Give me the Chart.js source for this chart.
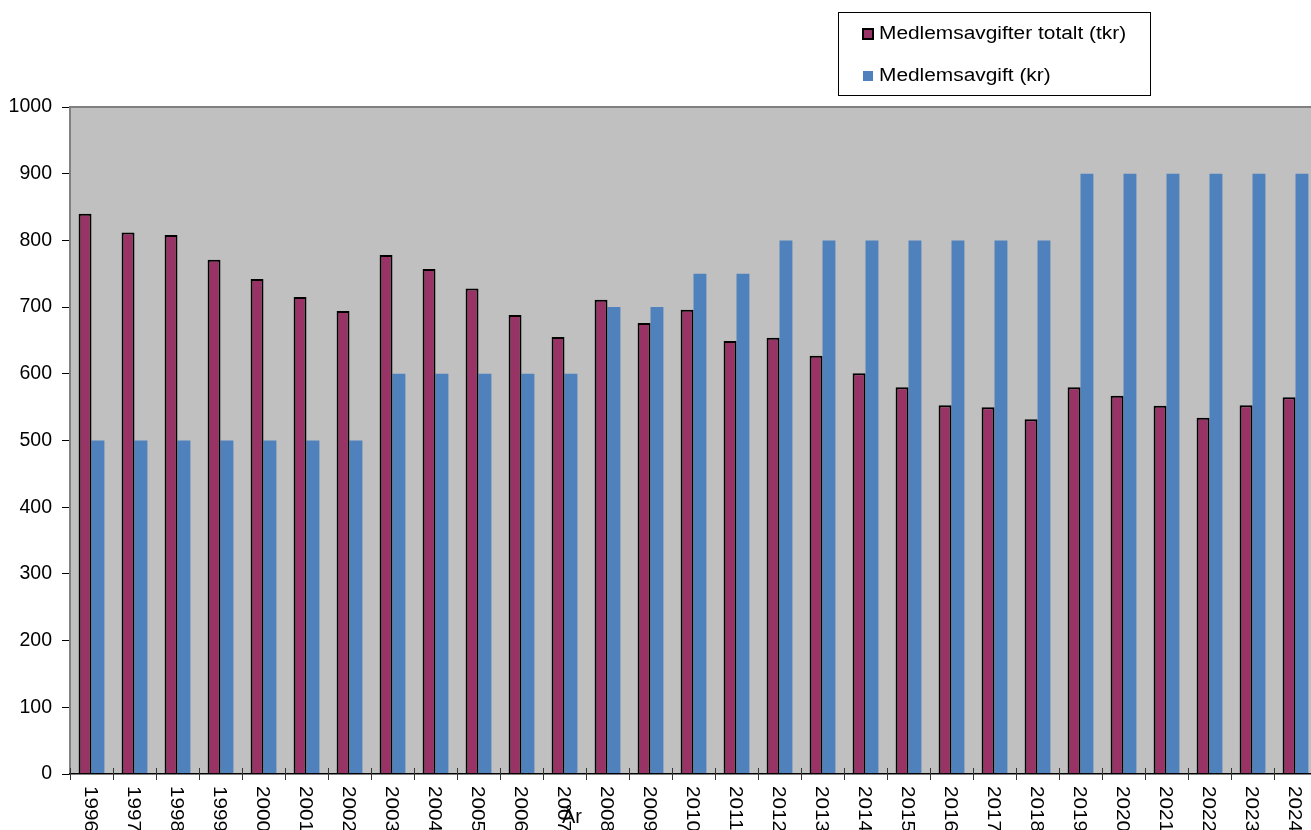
<!DOCTYPE html>
<html>
<head>
<meta charset="utf-8">
<script src="https://cdn.jsdelivr.net/npm/chart.js@4.4.1/dist/chart.umd.min.js"></script>
<style>
  html, body { margin: 0; padding: 0; background: #fff; overflow: hidden; }
  #wrap { width: 1320px; height: 830px; }
</style>
</head>
<body>
<div id="wrap"><canvas id="chart" width="1320" height="830"></canvas></div>
<script>
// Medlemsavgifter per år
const years = ['1996','1997','1998','1999','2000','2001','2002','2003','2004','2005',
  '2006','2007','2008','2009','2010','2011','2012','2013','2014','2015',
  '2016','2017','2018','2019','2020','2021','2022','2023','2024'];
const totalTkr = [840, 812, 808, 771, 742, 715, 694, 778, 757, 728,
  688, 655, 711, 676, 696, 649, 654, 627, 601, 580,
  553, 550, 532, 580, 567, 552, 534, 553, 565];
const feeKr = [500, 500, 500, 500, 500, 500, 500, 600, 600, 600,
  600, 600, 700, 700, 750, 750, 800, 800, 800, 800,
  800, 800, 800, 900, 900, 900, 900, 900, 900];
const yTicks = [0, 100, 200, 300, 400, 500, 600, 700, 800, 900, 1000];

const FONT = '"Liberation Sans", Arial, sans-serif';

// grey plot area + top frame line
const plotBg = {
  id: 'plotBg',
  beforeDraw(chart) {
    const { ctx, chartArea: a } = chart;
    ctx.save();
    ctx.fillStyle = '#C0C0C0';
    ctx.fillRect(a.left, a.top, a.right - a.left, a.bottom - a.top);
    ctx.strokeStyle = '#808080';
    ctx.lineWidth = 2;
    ctx.beginPath();
    ctx.moveTo(a.left, a.top);
    ctx.lineTo(a.right, a.top);
    ctx.stroke();
    ctx.restore();
  }
};

// x tick marks, rotated year labels, axis title and the boxed legend
const extras = {
  id: 'extras',
  afterDraw(chart) {
    const { ctx, chartArea: a } = chart;
    const xs = chart.scales.x;
    const n = chart.data.labels.length;
    const step = (a.right - a.left) / n;
    ctx.save();

    ctx.strokeStyle = '#333';
    ctx.lineWidth = 1;
    for (let i = 0; i <= n; i++) {
      const x = Math.round(a.left + i * step) + 0.5;
      ctx.beginPath();
      ctx.moveTo(x, a.bottom - 6);
      ctx.lineTo(x, a.bottom + 6);
      ctx.stroke();
    }

    ctx.fillStyle = '#000';
    ctx.font = '18.5px ' + FONT;
    ctx.textAlign = 'left';
    ctx.textBaseline = 'middle';
    chart.data.labels.forEach((lab, i) => {
      const x = xs.getPixelForTick(i) - 1;
      ctx.save();
      ctx.translate(x, a.bottom + 12);
      ctx.rotate(Math.PI / 2);
      ctx.scale(1.12, 1);
      ctx.fillText(lab, 0, 0);
      ctx.restore();
    });

    ctx.font = '20px ' + FONT;
    ctx.textAlign = 'center';
    ctx.textBaseline = 'alphabetic';
    ctx.fillText('År', 572, 823);

    // legend
    const lx = 838, ly = 12, lw = 312, lh = 83;
    ctx.fillStyle = '#fff';
    ctx.fillRect(lx, ly, lw, lh);
    ctx.strokeStyle = '#000';
    ctx.lineWidth = 1;
    ctx.strokeRect(lx + 0.5, ly + 0.5, lw, lh);
    const ds = chart.data.datasets;
    const rows = [34, 76];
    ds.forEach((d, i) => {
      const cy = rows[i];
      ctx.fillStyle = d.backgroundColor;
      if (d.borderWidth) {
        ctx.fillRect(862, cy - 6, 12, 12);
        ctx.strokeStyle = d.borderColor;
        ctx.lineWidth = 2;
        ctx.strokeRect(863, cy - 5, 10, 10);
      } else {
        ctx.fillRect(863, cy - 5, 10, 10);
      }
      ctx.save();
      ctx.translate(879, cy);
      ctx.scale(1.16, 1);
      ctx.fillStyle = '#000';
      ctx.font = '18px ' + FONT;
      ctx.textAlign = 'left';
      ctx.textBaseline = 'middle';
      ctx.fillText(d.label, 0, 0);
      ctx.restore();
    });

    ctx.restore();
  }
};

new Chart(document.getElementById('chart'), {
  type: 'bar',
  data: {
    labels: years,
    datasets: [
      { label: 'Medlemsavgifter totalt (tkr)', data: totalTkr, backgroundColor: '#993366',
        borderColor: '#000', borderWidth: 2, borderSkipped: 'bottom' },
      { label: 'Medlemsavgift (kr)', data: feeKr, backgroundColor: '#4F81BD', borderWidth: 0 }
    ]
  },
  options: {
    responsive: false,
    devicePixelRatio: 1,
    animation: false,
    layout: { padding: { top: 107, left: 0, right: 3, bottom: 0 } },
    datasets: { bar: { categoryPercentage: 0.6, barPercentage: 1 } },
    plugins: { legend: { display: false }, tooltip: { enabled: false } },
    scales: {
      x: {
        type: 'category',
        offset: true,
        grid: { display: false },
        ticks: { display: false },
        border: { display: true, color: '#000', width: 1.5, z: 1 },
        afterFit(scale) { scale.height = 56; }
      },
      y: {
        min: 0,
        max: 1000,
        afterBuildTicks(scale) { scale.ticks = yTicks.map(v => ({ value: v })); },
        grid: { drawOnChartArea: false, drawTicks: true, tickLength: 8, color: '#000', lineWidth: 1 },
        border: { display: true, color: '#808080', width: 2 },
        ticks: { color: '#000', padding: 10, font: { family: FONT, size: 19.5 }, callback: v => String(v) },
        afterFit(scale) { scale.width = 70; }
      }
    }
  },
  plugins: [plotBg, extras]
});
</script>
</body>
</html>
